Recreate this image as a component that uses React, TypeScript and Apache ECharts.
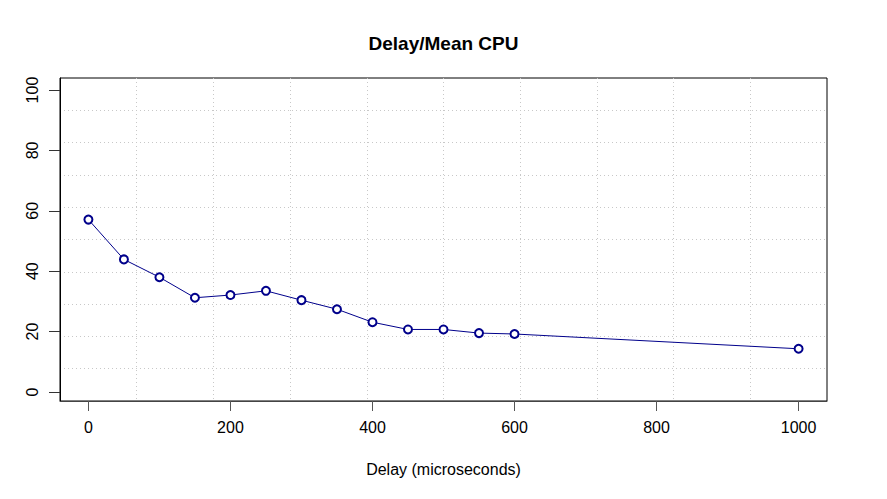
import React, { useEffect, useRef } from "react";
import * as echarts from "echarts";

const delays = [0, 50, 100, 150, 200, 250, 300, 350, 400, 450, 500, 550, 600, 1000];
const meanCpu = [57.1, 43.9, 38.0, 31.2, 32.1, 33.5, 30.4, 27.4, 23.1, 20.7, 20.7, 19.5, 19.2, 14.3];
const xTicks = [0, 200, 400, 600, 800, 1000];
const yTicks = [0, 20, 40, 60, 80, 100];
const gridDivisions = [0, 10];

const FONT = "Liberation Sans, Arial, Helvetica, sans-serif";

export default function App() {
  const ref = useRef<HTMLDivElement>(null);
  useEffect(() => {
    if (!ref.current) return;
    const chart = echarts.init(ref.current, null, { renderer: "svg" });
    const dotted = { show: true, showMinLine: false, showMaxLine: false, lineStyle: { color: "#c8c8c8", type: [1, 3], width: 1 } };
    chart.setOption({
      animation: false,
      backgroundColor: "#ffffff",
      title: {
        text: "Delay/Mean CPU",
        left: "center",
        top: 29,
        textStyle: { fontFamily: FONT, fontSize: 19, fontWeight: "bold", color: "#000" },
      },
      grid: {
        left: 60,
        right: 60,
        top: 78,
        bottom: 98,
        containLabel: false,
        outerBoundsMode: "none",
        show: true,
        borderColor: "#000",
        borderWidth: 1,
        backgroundColor: "transparent",
      },
      xAxis: [
        {
          type: "value",
          min: -40,
          max: 1040,
          name: "Delay (microseconds)",
          nameLocation: "middle",
          nameGap: 60,
          nameTextStyle: { fontFamily: FONT, fontSize: 16, color: "#000" },
          axisLine: { show: true, onZero: false, lineStyle: { color: "#444", width: 1 } },
          axisTick: { show: true, length: 10, customValues: xTicks, lineStyle: { color: "#555" } },
          axisLabel: {
            customValues: xTicks,
            formatter: (v: number) => String(v),
            margin: 18,
            fontFamily: FONT,
            fontSize: 16,
            color: "#000",
          },
          splitLine: { show: false },
        },
        {
          type: "value",
          min: gridDivisions[0],
          max: gridDivisions[1],
          interval: 1,
          position: "bottom",
          axisLine: { show: false },
          axisTick: { show: false },
          axisLabel: { show: false },
          splitLine: dotted,
        },
      ],
      yAxis: [
        {
          type: "value",
          min: -3,
          max: 104,
          name: "Mean CPU (%)",
          nameLocation: "middle",
          nameGap: 62,
          nameRotate: 90,
          nameTextStyle: { fontFamily: FONT, fontSize: 16, color: "#000" },
          axisLine: { show: true, onZero: false, lineStyle: { color: "#000", width: 1 } },
          axisTick: { show: true, length: 11, customValues: yTicks, lineStyle: { color: "#333" } },
          axisLabel: {
            customValues: yTicks,
            formatter: (v: number) => String(v),
            rotate: 90,
            margin: 20,
            fontFamily: FONT,
            fontSize: 16,
            color: "#000",
          },
          splitLine: { show: false },
        },
        {
          type: "value",
          min: gridDivisions[0],
          max: gridDivisions[1],
          interval: 1,
          position: "left",
          axisLine: { show: false },
          axisTick: { show: false },
          axisLabel: { show: false },
          splitLine: dotted,
        },
      ],
      series: [
        {
          type: "line",
          xAxisIndex: 0,
          yAxisIndex: 0,
          data: delays.map((d, i) => [d, meanCpu[i]]),
          symbol: "emptyCircle",
          symbolSize: 8,
          lineStyle: { color: "#00008b", width: 1 },
          itemStyle: { color: "#00008b", borderColor: "#00008b", borderWidth: 1 },
          showAllSymbol: true,
        },
      ],
    });
    return () => chart.dispose();
  }, []);
  return (
    <div
      ref={ref}
      style={{ position: "absolute", left: 0, top: 0, width: 887, height: 499 }}
    />
  );
}
